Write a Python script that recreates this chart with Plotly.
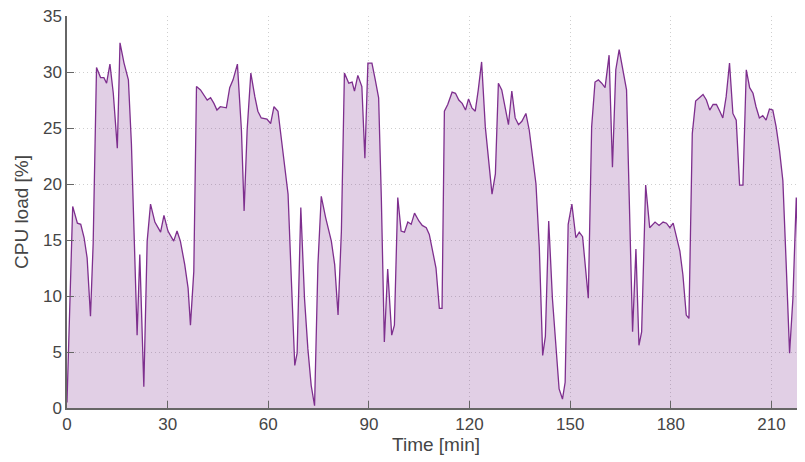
import plotly.graph_objects as go

time_min = [
    0.0, 1.7, 3.1, 4.1, 5.1, 6.0, 7.0, 7.8, 8.8, 10.0, 11.0, 11.8, 12.8, 13.8, 15.0, 15.8,
    17.0, 18.3, 19.2, 19.9, 20.9, 21.7, 22.9, 23.9, 24.9, 26.2, 27.9, 28.9, 30.1, 31.8,
    32.8, 33.8, 35.1, 36.1, 36.8, 37.8, 38.6, 39.8, 40.8, 41.8, 42.8, 43.8, 44.7, 45.7,
    47.5, 48.5, 49.5, 50.8, 52.0, 52.8, 53.7, 54.8, 56.0, 56.9, 57.9, 59.6, 60.7, 61.7,
    62.9, 63.9, 64.9, 65.9, 66.9, 67.9, 68.6, 69.7, 70.8, 71.8, 72.8, 73.8, 74.8, 75.8,
    77.1, 78.8, 79.8, 80.8, 81.8, 82.7, 84.0, 85.0, 85.7, 86.7, 87.9, 88.8, 89.7, 90.9,
    91.9, 92.9, 93.7, 94.6, 95.6, 96.8, 97.6, 98.6, 99.6, 100.6, 101.6, 102.6, 103.6,
    104.9, 105.9, 107.1, 108.0, 109.0, 110.0, 111.0, 111.8, 112.5, 113.5, 114.8, 115.8,
    116.8, 117.8, 118.8, 119.7, 120.7, 121.7, 122.6, 123.6, 124.7, 125.9, 126.7, 127.7,
    128.6, 129.6, 130.6, 131.6, 132.6, 133.6, 134.6, 135.6, 136.8, 137.8, 138.8, 139.8,
    140.8, 141.8, 142.6, 143.6, 144.7, 145.7, 146.7, 147.7, 148.5, 149.4, 150.5, 151.7,
    152.7, 153.7, 154.7, 155.4, 156.4, 157.4, 158.4, 159.4, 160.4, 161.6, 162.6, 163.6,
    164.6, 165.8, 166.8, 167.6, 168.6, 169.6, 170.5, 171.3, 172.5, 173.7, 175.3, 176.5,
    177.7, 178.7, 179.7, 180.7, 181.7, 182.7, 183.6, 184.6, 185.4, 186.4, 187.4, 188.4,
    189.6, 190.6, 191.6, 192.6, 193.6, 194.6, 195.5, 196.5, 197.5, 198.5, 199.5, 200.5,
    201.5, 202.5, 203.5, 204.5, 205.4, 206.4, 207.4, 208.4, 209.4, 210.4, 211.4, 212.4,
    213.4, 214.4, 215.4, 216.4, 217.4, 218.4, 219.4, 220.5,
]

cpu_load = [
    0.5, 18.0, 16.5, 16.4, 15.2, 13.4, 8.2, 14.7, 30.4, 29.5, 29.5, 29.0, 30.7, 28.1, 23.2, 32.6,
    30.8, 29.3, 23.6, 15.8, 6.5, 13.7, 1.9, 14.9, 18.2, 16.6, 15.7, 17.2, 15.8, 14.9,
    15.8, 14.9, 12.8, 10.7, 7.4, 12.2, 28.7, 28.4, 28.0, 27.5, 27.7, 27.2, 26.6, 26.9,
    26.8, 28.6, 29.3, 30.7, 24.8, 17.6, 24.8, 29.9, 27.8, 26.5, 25.9, 25.8, 25.4, 26.9,
    26.5, 24.2, 21.8, 19.1, 11.3, 3.8, 4.9, 17.9, 9.8, 5.3, 2.0, 0.2, 12.8, 18.9,
    17.0, 14.9, 12.8, 8.3, 15.8, 29.9, 29.0, 29.1, 28.3, 29.7, 28.7, 22.3, 30.8, 30.8,
    29.3, 27.7, 18.8, 5.9, 12.4, 6.5, 7.4, 18.8, 15.8, 15.7, 16.6, 16.4, 17.4,
    16.7, 16.3, 16.1, 15.5, 14.0, 12.5, 8.9, 8.9, 26.5, 27.1, 28.2, 28.1,
    27.5, 27.2, 26.6, 27.6, 26.8, 26.5, 28.4, 30.9, 25.1, 21.8, 19.1, 20.9,
    29.0, 28.4, 26.9, 25.3, 28.3, 25.9, 25.3, 25.6, 26.3, 24.8, 22.4, 20.0,
    14.3, 4.7, 6.4, 16.7, 9.8, 5.3, 1.7, 0.8, 2.3, 16.4, 18.2, 15.2,
    15.7, 15.3, 12.2, 9.8, 25.1, 29.1, 29.3, 29.0, 28.6, 31.5, 21.5, 30.2,
    32.0, 29.9, 28.4, 18.8, 6.8, 14.2, 5.6, 6.8, 19.9, 16.1, 16.6, 16.3,
    16.6, 16.5, 16.1, 16.5, 15.2, 14.0, 11.9, 8.3, 8.0, 24.5, 27.4, 27.7,
    28.0, 27.5, 26.6, 27.1, 27.1, 26.5, 25.9, 27.8, 30.8, 26.3, 25.7, 19.9,
    19.9, 30.2, 28.6, 28.1, 26.9, 25.9, 26.1, 25.7, 26.7, 26.6, 25.1, 23.0,
    20.3, 12.8, 4.9, 9.8, 18.8, 9.8, 5.7, 3.5,
]

x_ticks = [0, 30, 60, 90, 120, 150, 180, 210]
y_ticks = [0, 5, 10, 15, 20, 25, 30, 35]

line_color = "#7e2f8e"
axis_color = "#666666"
text_color = "#454545"
grid_color = "#cfcfcf"
font_family = "Liberation Sans, Arial, sans-serif"

fig = go.Figure()
fig.add_trace(go.Scatter(
    x=time_min, y=cpu_load, mode="lines",
    line=dict(color=line_color, width=1.3),
    fill="tozeroy", fillcolor="rgba(126,47,142,0.23)",
    showlegend=False,
))

# the page body has an 8px margin, so the figure is sized to the visible area
fig.update_layout(
    width=797, height=454,
    margin=dict(l=59, r=0, t=8, b=54, autoexpand=False),
    paper_bgcolor="white", plot_bgcolor="white",
    font=dict(family=font_family, color=text_color, size=17),
)
fig.update_xaxes(
    range=[0, 220], tickvals=x_ticks, ticks="inside", ticklen=7, tickcolor=axis_color,
    showline=True, linecolor=axis_color, linewidth=1.5,
    showgrid=True, gridcolor=grid_color, griddash="1px,3px", gridwidth=1,
    zeroline=False, automargin=False, ticklabeloverflow="allow",
    title=dict(text="Time [min]", font=dict(size=19, color=text_color), standoff=0),
    tickfont=dict(size=17, color=text_color),
)
fig.update_yaxes(
    range=[0, 35], tickvals=y_ticks, ticks="inside", ticklen=7, tickcolor=axis_color,
    showline=True, linecolor=axis_color, linewidth=1.5,
    showgrid=True, gridcolor=grid_color, griddash="1px,3px", gridwidth=1,
    zeroline=False, automargin=False, ticklabeloverflow="allow",
    title=dict(text="CPU load [%]", font=dict(size=19, color=text_color), standoff=9),
    tickfont=dict(size=17, color=text_color),
)

fig.write_html("out.html")
